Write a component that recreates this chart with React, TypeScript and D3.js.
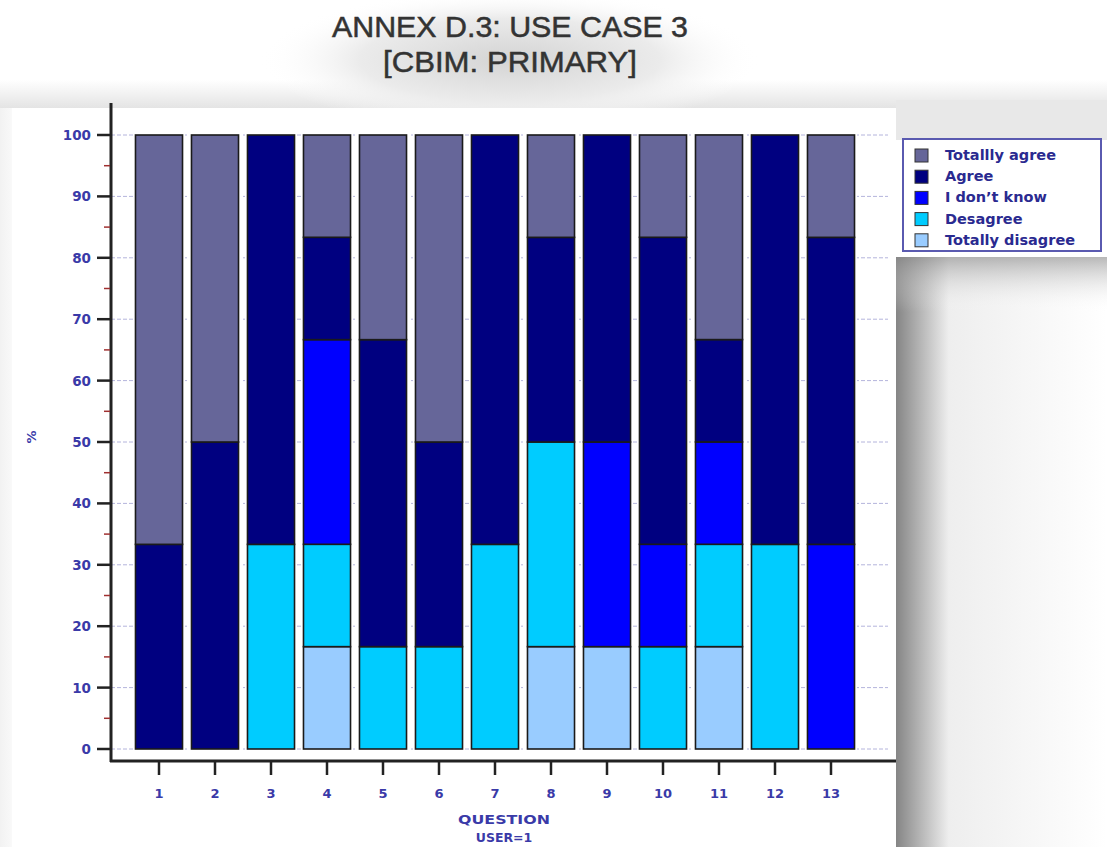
import React from "react";
import * as d3 from "d3";

const questions = ["1", "2", "3", "4", "5", "6", "7", "8", "9", "10", "11", "12", "13"];
const seriesNames = ["Totally disagree", "Desagree", "I don't know", "Agree", "Totallly agree"];
const totallyDisagree = [0, 0, 0, 16.67, 0, 0, 0, 16.67, 16.67, 0, 16.67, 0, 0];
const desagree = [0, 0, 33.33, 16.67, 16.67, 16.67, 33.33, 33.33, 0, 16.67, 16.67, 33.33, 0];
const dontKnow = [0, 0, 0, 33.33, 0, 0, 0, 0, 33.33, 16.67, 16.67, 0, 33.33];
const agree = [33.33, 50, 66.67, 16.67, 50, 33.33, 66.67, 33.33, 50, 50, 16.67, 66.67, 50];
const totallyAgree = [66.67, 50, 0, 16.66, 33.33, 50, 0, 16.67, 0, 16.66, 33.33, 0, 16.67];
const seriesColors = ["#99ccff", "#00ccff", "#0000ff", "#000080", "#666699"];
const legendOrder = ["Totallly agree", "Agree", "I don\u2019t know", "Desagree", "Totally disagree"];
const legendColors = ["#666699", "#000080", "#0000ff", "#00ccff", "#99ccff"];
const yTicks = [0, 10, 20, 30, 40, 50, 60, 70, 80, 90, 100];

export default function App() {
  const W = 1107, H = 847;
  const x0 = 131, x1 = 859;
  const x = d3.scaleBand<string>().domain(questions).range([x0, x1]).paddingInner(0.16).paddingOuter(0.08);
  const y = d3.scaleLinear().domain([0, 100]).range([749, 135]);
  const rows = questions.map((q, i) => ({
    q,
    "Totally disagree": totallyDisagree[i],
    "Desagree": desagree[i],
    "I don't know": dontKnow[i],
    "Agree": agree[i],
    "Totallly agree": totallyAgree[i],
  }));
  const stacked = d3.stack<any>().keys(seriesNames)(rows);
  const minorTicks = d3.range(5, 100, 10);
  const labelColor = "#3a3aa8";
  const font = "'Liberation Sans', Arial, sans-serif";
  const wide = "'DejaVu Sans', Verdana, sans-serif";

  return (
    <svg width={W} height={H} style={{ position: "absolute", left: 0, top: 0, background: "#fff" }}>
      <defs>
        <radialGradient id="titleGlow" cx="0.5" cy="0.5" r="0.5">
          <stop offset="0" stopColor="#d4d4d4" />
          <stop offset="0.6" stopColor="#ebebeb" />
          <stop offset="1" stopColor="#ffffff" stopOpacity="0" />
        </radialGradient>
        <linearGradient id="topBand" x1="0" y1="0" x2="0" y2="1">
          <stop offset="0" stopColor="#ffffff" />
          <stop offset="1" stopColor="#e2e2e2" />
        </linearGradient>
        <linearGradient id="rightShadeX" x1="0" y1="0" x2="1" y2="0">
          <stop offset="0" stopColor="#858585" />
          <stop offset="0.25" stopColor="#eeeeee" />
          <stop offset="1" stopColor="#fff" />
        </linearGradient>
        <linearGradient id="rightShadeY" x1="0" y1="0" x2="0" y2="1">
          <stop offset="0" stopColor="#888" stopOpacity="1" />
          <stop offset="1" stopColor="#fff" stopOpacity="0" />
        </linearGradient>
        <linearGradient id="leftShade" x1="0" y1="0" x2="1" y2="0">
          <stop offset="0" stopColor="#f2f2f2" />
          <stop offset="1" stopColor="#f9f9f9" />
        </linearGradient>
      </defs>
      {/* background shading */}
      <rect x={0} y={80} width={W} height={30} fill="url(#topBand)" />
      <ellipse cx={510} cy={60} rx={250} ry={70} fill="url(#titleGlow)" />
      <rect x={0} y={108} width={12} height={H - 108} fill="url(#leftShade)" />
      <rect x={896} y={100} width={211} height={40} fill="#e8e8e8" />
      <rect x={896} y={257} width={211} height={H - 257} fill="url(#rightShadeX)" />
      <rect x={896} y={257} width={211} height={55} fill="url(#rightShadeY)" opacity={0.6} />
      <rect x={12} y={108} width={884} height={H - 108} fill="#fff" />

      {/* title */}
      <text x={510} y={37} textAnchor="middle" fontFamily={font} fontSize={29} fill="#333" stroke="#333" strokeWidth={0.5} textLength={356} lengthAdjust="spacingAndGlyphs">
        ANNEX D.3: USE CASE 3
      </text>
      <text x={510} y={72} textAnchor="middle" fontFamily={font} fontSize={29} fill="#333" stroke="#333" strokeWidth={0.5} textLength={254} lengthAdjust="spacingAndGlyphs">
        [CBIM: PRIMARY]
      </text>

      {/* gridlines */}
      {yTicks.map((t) => (
        <line key={"g" + t} x1={111} x2={888} y1={y(t)} y2={y(t)} stroke="#b4b4dc" strokeWidth={1} strokeDasharray="4,2" />
      ))}

      {/* bars */}
      {stacked.map((s, si) => (
        <g key={s.key}>
          {s.map((d, i) =>
            d[1] - d[0] > 0 ? (
              <rect
                key={i}
                x={x(questions[i])!}
                y={y(d[1])}
                width={x.bandwidth()}
                height={y(d[0]) - y(d[1])}
                fill={seriesColors[si]}
                stroke="#fff"
                strokeWidth={5}
              />
            ) : null
          )}
        </g>
      ))}
      {stacked.map((s, si) => (
        <g key={"o" + s.key}>
          {s.map((d, i) =>
            d[1] - d[0] > 0 ? (
              <rect
                key={i}
                x={x(questions[i])!}
                y={y(d[1])}
                width={x.bandwidth()}
                height={y(d[0]) - y(d[1])}
                fill={seriesColors[si]}
                stroke="#1a1a1a"
                strokeWidth={1.6}
              />
            ) : null
          )}
        </g>
      ))}

      {/* y axis */}
      <line x1={111} x2={111} y1={103} y2={762} stroke="#222" strokeWidth={3} />
      {yTicks.map((t) => (
        <g key={"yt" + t}>
          <line x1={97} x2={111} y1={y(t)} y2={y(t)} stroke="#222" strokeWidth={2.5} />
          <text x={91} y={y(t) + 5} textAnchor="end" fontFamily={wide} fontWeight="bold" fontSize={13.5} fill={labelColor}>
            {t}
          </text>
        </g>
      ))}
      {minorTicks.map((t) => (
        <line key={"m" + t} x1={104} x2={110} y1={y(t)} y2={y(t)} stroke="#a03030" strokeWidth={1.5} />
      ))}
      <text transform={`translate(36,437) rotate(-90)`} textAnchor="middle" fontFamily={wide} fontWeight="bold" fontSize={13} fill={labelColor}>
        %
      </text>

      {/* x axis */}
      <line x1={110} x2={896} y1={761} y2={761} stroke="#222" strokeWidth={3} />
      {questions.map((q) => {
        const cx = x(q)! + x.bandwidth() / 2;
        return (
          <g key={"xt" + q}>
            <line x1={cx} x2={cx} y1={761} y2={775} stroke="#222" strokeWidth={2.5} />
            <text x={cx} y={798} textAnchor="middle" fontFamily={wide} fontWeight="bold" fontSize={13} fill={labelColor}>
              {q}
            </text>
          </g>
        );
      })}
      <text x={504} y={824} textAnchor="middle" fontFamily={wide} fontWeight="bold" fontSize={13} fill={labelColor} textLength={92} lengthAdjust="spacingAndGlyphs">
        QUESTION
      </text>
      <text x={504} y={842} textAnchor="middle" fontFamily={wide} fontWeight="bold" fontSize={12.5} fill={labelColor}>
        USER=1
      </text>

      {/* legend */}
      <rect x={903} y={139} width={198} height={112} fill="#fff" stroke="#5a5ab0" strokeWidth={2} />
      {legendOrder.map((name, i) => {
        const ly = 155 + i * 21.2;
        return (
          <g key={"l" + name}>
            <rect x={915} y={ly - 6} width={13} height={13} fill={legendColors[i]} stroke="#333" strokeWidth={1} />
            <text x={945} y={ly + 5} fontFamily={wide} fontWeight="bold" fontSize={14.5} fill="#2a2a90">
              {name}
            </text>
          </g>
        );
      })}
    </svg>
  );
}
